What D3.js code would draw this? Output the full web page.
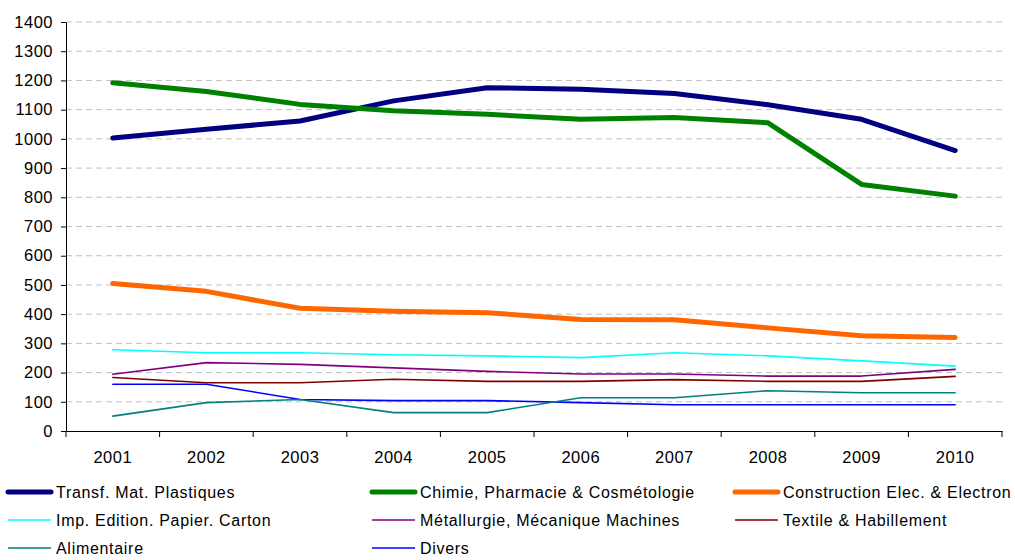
<!DOCTYPE html>
<html><head><meta charset="utf-8">
<script src="https://cdn.jsdelivr.net/npm/d3@7"></script>
<style>body{margin:0;background:#fff}svg{display:block}text{font-family:"Liberation Sans",Arial,sans-serif;fill:#000}</style>
</head><body><svg id="c" width="1015" height="560"></svg>
<script>
const years = ["2001","2002","2003","2004","2005","2006","2007","2008","2009","2010"];
const yTicks = [0,100,200,300,400,500,600,700,800,900,1000,1100,1200,1300,1400];
const seriesNames = ["Transf. Mat. Plastiques","Chimie, Pharmacie & Cosmétologie","Construction Elec. & Electron","Imp. Edition. Papier. Carton","Métallurgie, Mécanique Machines","Textile & Habillement","Alimentaire","Divers"];
const plastiques = [1003,1033,1061,1130,1175,1170,1155,1117,1067,960];
const chimie = [1192,1162,1118,1096,1084,1067,1073,1055,844,804];
const construction = [505,478,420,410,405,382,381,353,326,320];
const imprimerie = [278,268,268,261,257,251,268,257,240,222];
const metallurgie = [194,234,228,216,204,195,195,188,188,211];
const textile = [183,165,165,177,170,170,176,170,170,187];
const alimentaire = [51,97,108,63,63,114,114,138,131,131];
const divers = [160,160,108,104,104,97,90,90,90,90];
const seriesValues = [plastiques,chimie,construction,imprimerie,metallurgie,textile,alimentaire,divers];
const colors = ["#000080","#008000","#FF6600","#00FFFF","#800080","#800000","#008080","#0000FF"];
const widths = [5,5,5,1.6,1.6,1.6,1.6,1.6];

const svg = d3.select("#c");
const L=66, R=1002, T=22, B=431;
const x = d3.scaleBand().domain(years).range([L,R]).padding(0);
const y = d3.scaleLinear().domain([0,1400]).range([B,T]);

// grid
svg.append("g").selectAll("line").data(yTicks.filter(d=>d>0)).join("line")
  .attr("x1",L).attr("x2",R).attr("y1",d=>y(d)).attr("y2",d=>y(d))
  .attr("stroke","#c0c0c0").attr("stroke-width",1).attr("stroke-dasharray","6,4");

// y axis
const ya = svg.append("g").attr("transform",`translate(${L},0)`)
  .call(d3.axisLeft(y).tickValues(yTicks).tickFormat(d3.format("d")).tickSize(5).tickPadding(8).tickSizeOuter(0));
ya.select(".domain").attr("stroke","#000");
ya.selectAll("line").attr("stroke","#000");
ya.selectAll("text").style("font-size","16.5px").style("letter-spacing","0.5px").attr("font-family","Liberation Sans, Arial, sans-serif");

// x axis
const xa = svg.append("g").attr("transform",`translate(0,${B})`)
  .call(d3.axisBottom(x).tickSize(0).tickPadding(20).tickSizeOuter(0));
xa.select(".domain").attr("stroke","#000");
xa.selectAll("text").style("font-size","16.5px").style("letter-spacing","0.5px").attr("font-family","Liberation Sans, Arial, sans-serif");
// band boundary ticks
const bounds = years.map(d=>x(d)).concat([R]);
xa.append("g").selectAll("line").data(bounds).join("line")
  .attr("x1",d=>d).attr("x2",d=>d).attr("y1",0).attr("y2",6).attr("stroke","#000");

const line = d3.line().x((d,i)=>x(years[i])+x.bandwidth()/2).y(d=>y(d));
const order = [7,6,5,4,3,2,0,1];
svg.append("g").selectAll("path").data(order).join("path")
  .attr("d",i=>line(seriesValues[i])).attr("fill","none")
  .attr("stroke",i=>colors[i]).attr("stroke-width",i=>widths[i])
  .attr("stroke-linejoin","round").attr("stroke-linecap","round");

// legend
const colX = [8,372,735], rowY = [492,520,548];
const lg = svg.append("g").selectAll("g").data(seriesNames).join("g")
  .attr("transform",(d,i)=>`translate(${colX[i%3]},${rowY[Math.floor(i/3)]})`);
lg.append("line").attr("x1",0).attr("x2",43).attr("y1",0).attr("y2",0)
  .attr("stroke",(d,i)=>colors[i]).attr("stroke-width",(d,i)=>i<3?5:1.6).attr("stroke-linecap",(d,i)=>i<3?"round":"butt");
lg.append("text").attr("x",48).attr("y",0).attr("dy","0.35em").style("font-size","16px").style("letter-spacing","0.7px").text(d=>d);
</script></body></html>
